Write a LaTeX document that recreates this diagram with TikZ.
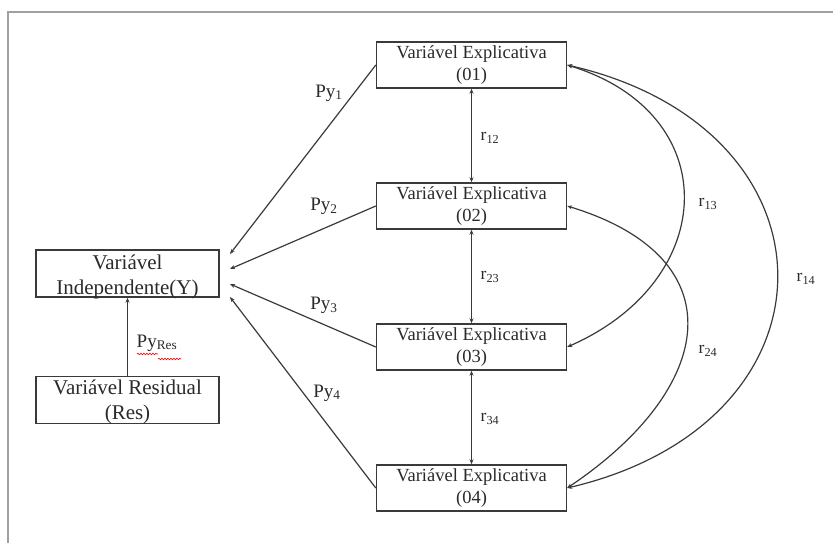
\documentclass[tikz,border=0pt]{standalone}
\usepackage{fontspec}
\setmainfont{Liberation Serif}
\usetikzlibrary{arrows.meta,decorations.pathmorphing}
\definecolor{linec}{HTML}{3A3A3A}
\definecolor{textc}{HTML}{2A2A2A}
\definecolor{framec}{HTML}{A0A0A0}
\begin{document}
\begin{tikzpicture}[x=1pt,y=-1pt,
  box/.style={draw=linec, line width=1.4pt, inner sep=0pt, align=center, text=textc},
  ebox/.style={box, minimum width=190pt, minimum height=46pt, font=\fontsize{18.5}{22.5}\selectfont},
  lbox/.style={box, minimum width=183pt, minimum height=47pt},
  ltext/.style={inner sep=0pt, align=center, text=textc, font=\fontsize{21}{25}\selectfont},
  conn/.style={draw=linec, line width=1.2pt, -{Stealth[length=5pt,width=4pt]}},
  dconn/.style={draw=linec, line width=1.2pt, {Stealth[length=5pt,width=4pt]}-{Stealth[length=5pt,width=4pt]}},
  plab/.style={text=textc, font=\fontsize{19}{22}\selectfont, inner sep=0pt},
  rlab/.style={text=textc, font=\fontsize{17.5}{20}\selectfont, inner sep=0pt},
  wavy/.style={draw=red, line width=0.6pt, decorate, decoration={snake, amplitude=0.8pt, segment length=3pt}}]
\useasboundingbox (0,0) rectangle (833,543);
\draw[framec, line width=1.5pt] (8,543) -- (8,12) -- (833,12);

% nodes
\node[ebox] (E1) at (471.5,65) {Variável Explicativa\\(01)};
\node[ebox] (E2) at (471.5,206) {Variável Explicativa\\(02)};
\node[ebox] (E3) at (471.5,347) {Variável Explicativa\\(03)};
\node[ebox] (E4) at (471.5,488) {Variável Explicativa\\(04)};
\node[lbox] (Y) at (127.5,273.5) {};
\node[ltext] (Yt) at ([yshift=-3.5pt]Y.center) {Variável\\Independente(Y)};
\node[lbox] (R) at (127.5,400) {};
\node[ltext] (Rt) at ([yshift=-2pt]R.center) {Variável Residual\\(Res)};

% arrow targets at Y
\coordinate (t1) at (230,254);
\coordinate (t2) at (230,269);
\coordinate (t3) at (230,284);
\coordinate (t4) at (230,297);

\draw[conn] (E1.west) -- (t1);
\draw[conn] (E2.west) -- (t2);
\draw[conn] (E3.west) -- (t3);
\draw[conn] (E4.west) -- (t4);
\draw[conn] (R.north) -- (Y.south);

\draw[dconn] (E1.south) -- (E2.north);
\draw[dconn] (E2.south) -- (E3.north);
\draw[dconn] (E3.south) -- (E4.north);

\draw[dconn] (E1.east) .. controls (725,113) and (720,280) .. (E3.east);
\draw[dconn] (E1.east) .. controls (846,129) and (848,422) .. (E4.east);
\draw[dconn] (E2.east) .. controls (738,258) and (716,388) .. (E4.east);

% labels
\node[plab] (p1) at (329,93) {Py\textsubscript{1}};
\node[plab] (p2) at (324,206) {Py\textsubscript{2}};
\node[plab] (p3) at (324,305) {Py\textsubscript{3}};
\node[plab] (p4) at (327,393) {Py\textsubscript{4}};
\node[plab] (pr) at (157,343) {Py\textsubscript{Res}};
\draw[wavy] (137,354) -- (158,354);
\draw[wavy] (158,359) -- (181,359);

\node[rlab] (l12) at (490,138) {r\textsubscript{12}};
\node[rlab] (l23) at (490,277) {r\textsubscript{23}};
\node[rlab] (l34) at (490,419) {r\textsubscript{34}};
\node[rlab] (l13) at (708,204) {r\textsubscript{13}};
\node[rlab] (l24) at (708,351) {r\textsubscript{24}};
\node[rlab] (l14) at (806,279) {r\textsubscript{14}};
\end{tikzpicture}
\end{document}
